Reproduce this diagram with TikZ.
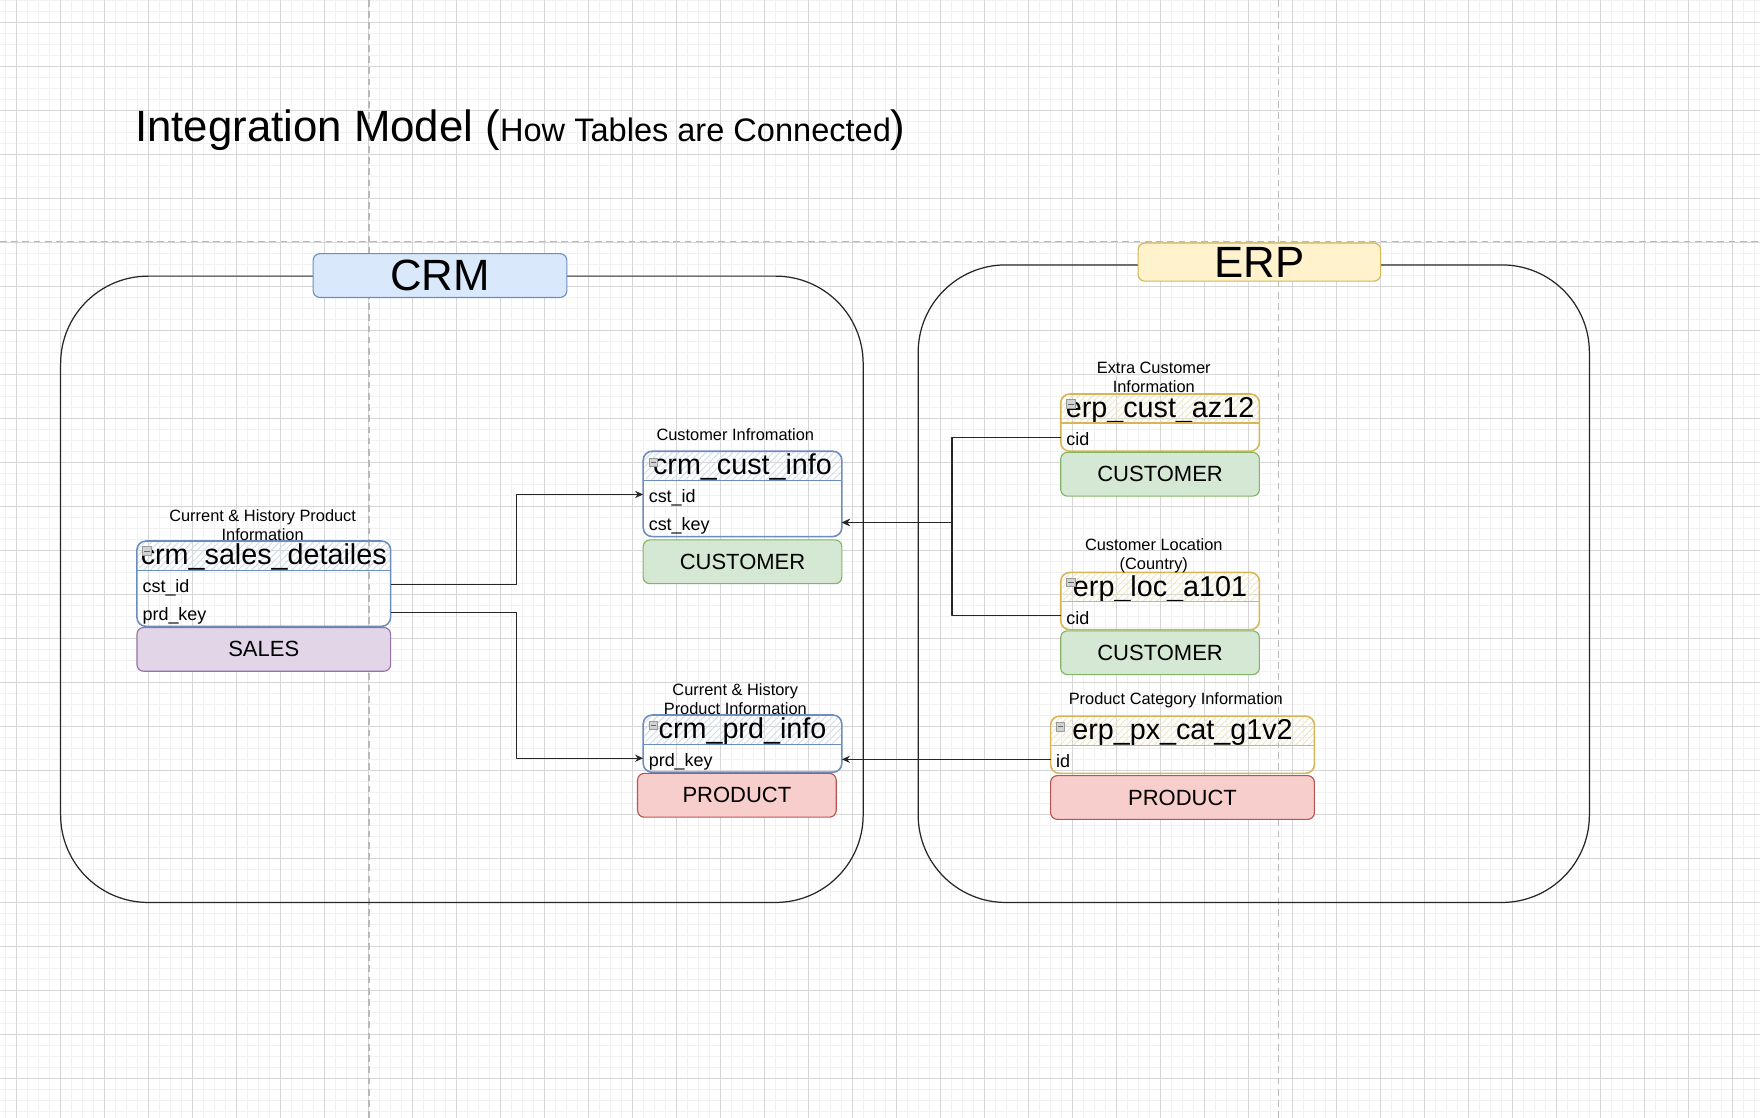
\documentclass[tikz,border=0pt]{standalone}
\usepackage{fontspec}
\setmainfont{Liberation Sans}
\usepackage{tikz}
\usepackage{xcolor}
\usetikzlibrary{positioning,arrows.meta,calc,patterns}

\definecolor{crmblue}{HTML}{6C8EBF}
\definecolor{crmfill}{HTML}{DAE8FC}
\definecolor{erpgold}{HTML}{D6B656}
\definecolor{erpfill}{HTML}{FFF2CC}
\definecolor{custgreen}{HTML}{82B366}
\definecolor{custfill}{HTML}{D5E8D4}
\definecolor{prodred}{HTML}{B85450}
\definecolor{prodfill}{HTML}{F8CECC}
\definecolor{salespurple}{HTML}{9673A6}
\definecolor{salesfill}{HTML}{E1D5E7}
\definecolor{griddark}{HTML}{D6D6D6}
\definecolor{gridlight}{HTML}{F1F1F1}

\tikzset{
  minorline/.style={draw=gridlight, line width=0.5pt},
  majorline/.style={draw=griddark, line width=0.5pt},
  pagebreak/.style={draw=gray!55, line width=0.6pt, dash pattern=on 3pt off 2pt},
  group/.style={draw=black!85, line width=0.55pt, rounded corners=39pt},
  grouplabel/.style 2 args={draw=#1, fill=#2, line width=0.5pt, rounded corners=3pt,
    font=\fontsize{19.5}{22}\selectfont, inner sep=0pt},
  thead/.style={anchor=north west, inner sep=0pt, outer sep=0pt, minimum height=13pt,
    text height=10.5pt, text depth=2.5pt, rounded corners=3pt,
    font=\fontsize{12.8}{14}\selectfont,
    postaction={pattern=north east lines, pattern color=#1}},
  trow/.style={text width=#1, align=left, inner xsep=2.5pt, inner ysep=0pt, outer sep=0pt,
    text height=10pt, text depth=2.5pt, font=\fontsize{8}{9}\selectfont},
  tframe/.style={draw=#1, line width=0.7pt, rounded corners=4pt},
  minbox/.style={draw=gray!80, fill=gray!35, minimum size=3.8pt, inner sep=0pt,
    path picture={\draw[black!60, line width=0.4pt]
      ([xshift=0.7pt]path picture bounding box.west) --
      ([xshift=-0.7pt]path picture bounding box.east);}},
  caption/.style={font=\fontsize{7.3}{8.5}\selectfont, align=center, inner sep=0pt},
  catbox/.style 2 args={draw=#1, fill=#2, line width=0.5pt, rounded corners=3pt,
    minimum height=19.5pt, inner sep=0pt, outer sep=0pt, font=\fontsize{9.8}{11}\selectfont},
  link/.style={draw=black!85, line width=0.6pt, -{Stealth[length=3.6pt, width=3.2pt]}}
}

\begin{document}
\begin{tikzpicture}[x=0.5pt, y=-0.5pt, line join=round]
  \useasboundingbox (0,0) rectangle (1568,996);
  % Grid of the canvas
  \foreach \i in {0,...,159}
    \draw[minorline] ({5.1+9.8*\i},0) -- ++(0,996);
  \foreach \j in {0,...,101}
    \draw[minorline] (0,{0.6+9.8*\j}) -- ++(1568,0);
  \foreach \i in {0,...,39}
    \draw[majorline] ({14.9+39.2*\i},0) -- ++(0,996);
  \foreach \j in {0,...,24}
    \draw[majorline] (0,{20.2+39.2*\j}) -- ++(1568,0);
  % Page breaks
  \draw[pagebreak] (328.8,0) -- (328.8,996);
  \draw[pagebreak] (1139.3,0) -- (1139.3,996);
  \draw[pagebreak] (0,215) -- (1568,215);

  % Title
  \node[anchor=base west, inner sep=0pt] (title) at (120,126)
    {\fontsize{19.5}{22}\selectfont Integration Model (%
     {\fontsize{14.5}{17}\selectfont How Tables are Connected})};

  % Source systems
  \draw[group] (54,246) rectangle (769,804);
  \node[grouplabel={crmblue}{crmfill}, minimum width=113pt, minimum height=19.5pt]
    (crm) at (392,245.5) {CRM};
  \draw[group] (818,236) rectangle (1416,804);
  \node[grouplabel={erpgold}{erpfill}, minimum width=108pt, minimum height=17pt]
    (erp) at (1122,233.5) {ERP};

  % crm_sales_detailes
  \node[thead=crmblue!30, minimum width=113pt] (sales) at (122,482) {crm\_sales\_detailes};
  \node[trow=108pt, below=0pt of sales] (sales-cst) {cst\_id};
  \node[trow=108pt, below=0pt of sales-cst] (sales-prd) {prd\_key};
  \draw[tframe=crmblue] (sales.north west) rectangle (sales-prd.south east);
  \draw[crmblue, line width=0.6pt] (sales.south west) -- (sales.south east);
  \node[minbox, anchor=north west] (sales-min) at ([xshift=2.4pt,yshift=-2.4pt]sales.north west) {};
  \node[caption] (sales-cap) at ([xshift=-0.5pt,yshift=7.25pt]sales.north)
    {Current \& History Product\\Information};
  \node[catbox={salespurple}{salesfill}, minimum width=113pt, below=0.5pt of sales-prd]
    (sales-cat) {SALES};

  % crm_cust_info
  \node[thead=crmblue!30, minimum width=88.5pt] (cust) at (573,402) {crm\_cust\_info};
  \node[trow=83.5pt, below=0pt of cust] (cust-id) {cst\_id};
  \node[trow=83.5pt, below=0pt of cust-id] (cust-key) {cst\_key};
  \draw[tframe=crmblue] (cust.north west) rectangle (cust-key.south east);
  \draw[crmblue, line width=0.6pt] (cust.south west) -- (cust.south east);
  \node[minbox, anchor=north west] (cust-min) at ([xshift=2.4pt,yshift=-2.9pt]cust.north west) {};
  \node[caption] (cust-cap) at ([xshift=-3.2pt,yshift=7.25pt]cust.north)
    {Customer Infromation};
  \node[catbox={custgreen}{custfill}, minimum width=88.5pt, below=1.5pt of cust-key]
    (cust-cat) {CUSTOMER};

  % crm_prd_info
  \node[thead=crmblue!30, minimum width=88.5pt] (prd) at (573,637) {crm\_prd\_info};
  \node[trow=83.5pt, below=0pt of prd] (prd-key) {prd\_key};
  \draw[tframe=crmblue] (prd.north west) rectangle (prd-key.south east);
  \draw[crmblue, line width=0.6pt] (prd.south west) -- (prd.south east);
  \node[minbox, anchor=north west] (prd-min) at ([xshift=2.4pt,yshift=-2.6pt]prd.north west) {};
  \node[caption] (prd-cap) at ([xshift=-3.2pt,yshift=7.25pt]prd.north)
    {Current \& History\\Product Information};
  \node[catbox={prodred}{prodfill}, minimum width=88.5pt, below=0.5pt of prd-key, xshift=-2.5pt]
    (prd-cat) {PRODUCT};

  % erp_cust_az12
  \node[thead=erpgold!35, minimum width=88.5pt] (ecust) at (945,351) {erp\_cust\_az12};
  \node[trow=83.5pt, below=0pt of ecust] (ecust-cid) {cid};
  \draw[tframe=erpgold] (ecust.north west) rectangle (ecust-cid.south east);
  \draw[erpgold, line width=0.6pt] (ecust.south west) -- (ecust.south east);
  \node[minbox, anchor=north west] (ecust-min) at ([xshift=2.4pt,yshift=-2.4pt]ecust.north west) {};
  \node[caption] (ecust-cap) at ([xshift=-2.8pt,yshift=7.25pt]ecust.north)
    {Extra Customer\\Information};
  \node[catbox={custgreen}{custfill}, minimum width=88.5pt, below=0.5pt of ecust-cid]
    (ecust-cat) {CUSTOMER};

  % erp_loc_a101
  \node[thead=erpgold!35, minimum width=88.5pt] (eloc) at (945,510) {erp\_loc\_a101};
  \node[trow=83.5pt, below=0pt of eloc] (eloc-cid) {cid};
  \draw[tframe=erpgold] (eloc.north west) rectangle (eloc-cid.south east);
  \draw[erpgold, line width=0.6pt] (eloc.south west) -- (eloc.south east);
  \node[minbox, anchor=north west] (eloc-min) at ([xshift=2.4pt,yshift=-2.4pt]eloc.north west) {};
  \node[caption] (eloc-cap) at ([xshift=-2.8pt,yshift=7.25pt]eloc.north)
    {Customer Location\\(Country)};
  \node[catbox={custgreen}{custfill}, minimum width=88.5pt, below=0.5pt of eloc-cid]
    (eloc-cat) {CUSTOMER};

  % erp_px_cat_g1v2
  \node[thead=erpgold!35, minimum width=117.5pt] (ecat) at (936,638) {erp\_px\_cat\_g1v2};
  \node[trow=112.5pt, below=0pt of ecat] (ecat-id) {id};
  \draw[tframe=erpgold] (ecat.north west) rectangle (ecat-id.south east);
  \draw[erpgold, line width=0.6pt] (ecat.south west) -- (ecat.south east);
  \node[minbox, anchor=north west] (ecat-min) at ([xshift=2.2pt,yshift=-2.6pt]ecat.north west) {};
  \node[caption] (ecat-cap) at ([xshift=-3pt,yshift=7.25pt]ecat.north)
    {Product Category Information};
  \node[catbox={prodred}{prodfill}, minimum width=117.5pt, below=1pt of ecat-id]
    (ecat-cat) {PRODUCT};

  % Joins between tables
  \draw[link] (sales-cst.east) -- ++(112,0) |- (cust-id.west);
  \draw[link] (sales-prd.east) -- ++(112,0) |- (prd-key.west);
  \draw[link] (ecust-cid.west) -- ++(-97,0) |- (cust-key.east);
  \draw[link] (eloc-cid.west) -- ++(-97,0) |- (cust-key.east);
  \draw[link] (ecat-id.west) -- (ecat-id.west -| prd-key.east);
\end{tikzpicture}
\end{document}
